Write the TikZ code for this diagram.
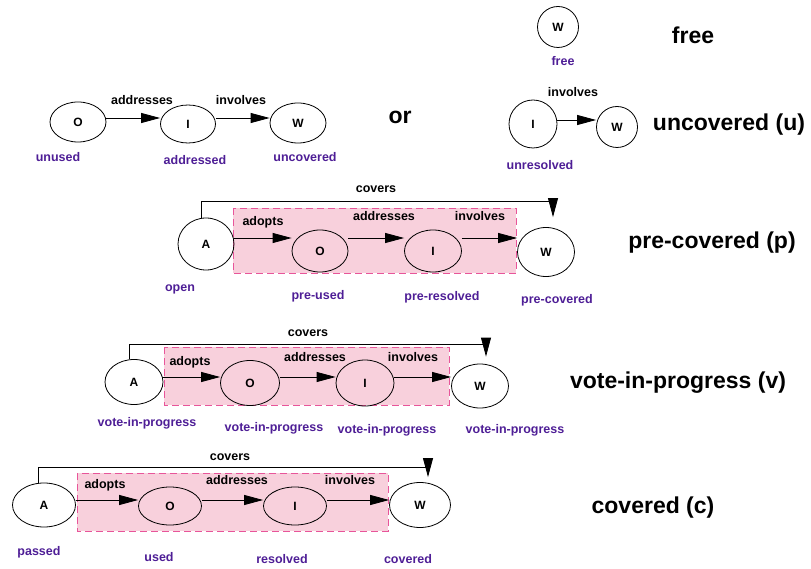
\documentclass[tikz,border=0pt]{standalone}
\usepackage{fontspec}
\setmainfont{Liberation Sans}
\usetikzlibrary{shapes.geometric,arrows.meta}
\definecolor{statecol}{RGB}{78,30,150}
\definecolor{boxfill}{RGB}{248,208,220}
\definecolor{boxedge}{RGB}{232,85,154}
\tikzset{
  ent/.style={draw=black,line width=0.8pt,ellipse,inner sep=0pt,font=\fontsize{12}{13}\selectfont\bfseries},
  rel/.style={line width=0.8pt,-{Triangle[length=19pt,width=10pt]}},
  lbl/.style={font=\fontsize{12.5}{14}\selectfont\bfseries,inner sep=0pt},
  st/.style={font=\fontsize{12.5}{14}\selectfont\bfseries,text=statecol,inner sep=0pt},
  ttl/.style={font=\fontsize{23}{27}\selectfont\bfseries,inner sep=0pt},
  group/.style={fill=boxfill,draw=boxedge,line width=0.8pt,dash pattern=on 7pt off 4pt}
}
\begin{document}
\begin{tikzpicture}[x=1pt,y=-1pt]
\useasboundingbox (0,0) rectangle (811,569);

% ---- free ----
\node[ent,minimum width=41pt,minimum height=41pt] (fW) at (558,27) {W};
\node[st] (fs) at (563,61) {free};
\node[ttl] (ft) at (693,35) {free};

% ---- uncovered: O -> I -> W ----
\coordinate (u1) at (0,118);
\node[ent,minimum width=56pt,minimum height=40pt] (uO) at (78,122) {O};
\node[ent,minimum width=55pt,minimum height=38pt] (uI) at (188,124) {I};
\node[ent,minimum width=56pt,minimum height=40pt] (uW) at (298,123) {W};
\draw[rel] (uO.east |- u1) -- (uI.west |- u1);
\draw[rel] (uI.east |- u1) -- (uW.west |- u1);
\node[lbl] (ul1) at (142,100) {addresses};
\node[lbl] (ul2) at (241,100) {involves};
\node[st] (us1) at (58,157) {unused};
\node[st] (us2) at (195,160) {addressed};
\node[st] (us3) at (305,157) {uncovered};

\node[ttl] (or) at (400,117) {or};

% ---- uncovered: I -> W ----
\coordinate (u2) at (0,120);
\node[ent,minimum width=48pt,minimum height=48pt] (vI) at (533,124) {I};
\node[ent,minimum width=41pt,minimum height=41pt] (vW) at (617,127) {W};
\draw[rel] (vI.east |- u2) -- (vW.west |- u2);
\node[lbl] (vl) at (573,92) {involves};
\node[st] (vs) at (540,165) {unresolved};
\node[ttl] (ut) at (729,125) {uncovered (u)};

% ---- pre-covered ----
\coordinate (p) at (0,238);
\coordinate (ptop) at (0,201);
\path[group] (233,208) rectangle (516,273);
\node[ent,minimum width=56pt,minimum height=52pt] (pA) at (206,244) {A};
\node[ent,minimum width=56pt,minimum height=42pt] (pO) at (320,251) {O};
\node[ent,minimum width=57pt,minimum height=42pt] (pI) at (433,251) {I};
\node[ent,minimum width=57pt,minimum height=49pt] (pW) at (546,252) {W};
\draw[rel] (pA.east |- p) -- (pO.west |- p);
\draw[rel] (pO.east |- p) -- (pI.west |- p);
\draw[rel] (pI.east |- p) -- (pW.west |- p);
\draw[rel] ([xshift=-5pt]pA.north) -- ([xshift=-5pt]pA.north |- ptop) -| ([xshift=7pt,yshift=10pt]pW.north);
\node[lbl] (pl0) at (376,189) {covers};
\node[lbl] (pl1) at (263,222) {adopts};
\node[lbl] (pl2) at (384,216) {addresses};
\node[lbl] (pl3) at (480,216) {involves};
\node[st] (ps1) at (180,289) {open};
\node[st] (ps2) at (318,296) {pre-used};
\node[st] (ps3) at (442,297) {pre-resolved};
\node[st] (ps4) at (557,300) {pre-covered};
\node[ttl] (pt) at (712,243) {pre-covered (p)};

% ---- vote-in-progress ----
\coordinate (v) at (0,377);
\coordinate (vtop) at (0,344);
\path[group] (164,347) rectangle (449,405);
\node[ent,minimum width=58pt,minimum height=45pt] (gA) at (134,382) {A};
\node[ent,minimum width=59pt,minimum height=45pt] (gO) at (250,383) {O};
\node[ent,minimum width=58pt,minimum height=46pt] (gI) at (365,383) {I};
\node[ent,minimum width=57pt,minimum height=44pt] (gW) at (480,386) {W};
\draw[rel] (gA.east |- v) -- (gO.west |- v);
\draw[rel] (gO.east |- v) -- (gI.west |- v);
\draw[rel] (gI.east |- v) -- (gW.west |- v);
\draw[rel] ([xshift=-5pt]gA.north) -- ([xshift=-5pt]gA.north |- vtop) -| ([xshift=6pt,yshift=7pt]gW.north);
\node[lbl] (gl0) at (308,333) {covers};
\node[lbl] (gl1) at (190,362) {adopts};
\node[lbl] (gl2) at (315,357) {addresses};
\node[lbl] (gl3) at (413,357) {involves};
\node[st] (gs1) at (147,423) {vote-in-progress};
\node[st] (gs2) at (274,428) {vote-in-progress};
\node[st] (gs3) at (387,430) {vote-in-progress};
\node[st] (gs4) at (515,430) {vote-in-progress};
\node[ttl] (gt) at (678,383) {vote-in-progress (v)};

% ---- covered ----
\coordinate (c) at (0,500);
\coordinate (ctop) at (0,467);
\path[group] (77,473) rectangle (388,531);
\node[ent,minimum width=63pt,minimum height=44pt] (cA) at (44,505) {A};
\node[ent,minimum width=63pt,minimum height=38pt] (cO) at (170,506) {O};
\node[ent,minimum width=63pt,minimum height=38pt] (cI) at (295,506) {I};
\node[ent,minimum width=61pt,minimum height=45pt] (cW) at (420,505) {W};
\draw[rel] (cA.east |- c) -- (cO.west |- c);
\draw[rel] (cO.east |- c) -- (cI.west |- c);
\draw[rel] (cI.east |- c) -- (cW.west |- c);
\draw[rel] ([xshift=-6pt]cA.north) -- ([xshift=-6pt]cA.north |- ctop) -| ([xshift=8pt,yshift=5pt]cW.north);
\node[lbl] (cl0) at (230,457) {covers};
\node[lbl] (cl1) at (105,485) {adopts};
\node[lbl] (cl2) at (237,480) {addresses};
\node[lbl] (cl3) at (350,480) {involves};
\node[st] (cs1) at (39,552) {passed};
\node[st] (cs2) at (159,557) {used};
\node[st] (cs3) at (282,559) {resolved};
\node[st] (cs4) at (408,559) {covered};
\node[ttl] (ct) at (653,508) {covered (c)};
\end{tikzpicture}
\end{document}
